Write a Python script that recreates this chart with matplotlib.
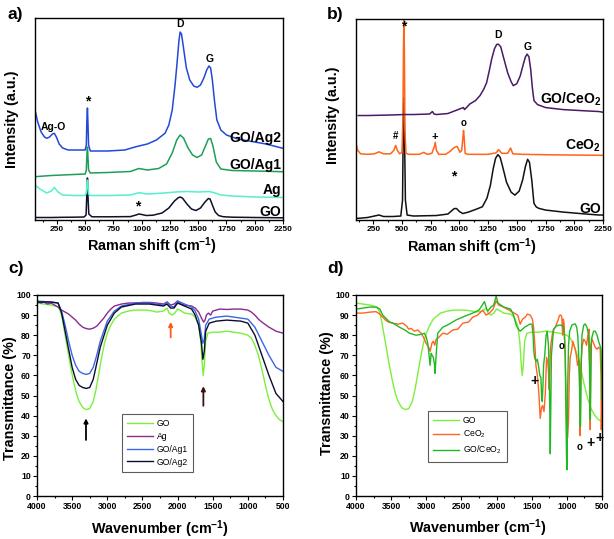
import matplotlib
matplotlib.use("Agg")
import matplotlib.pyplot as plt
from matplotlib.ticker import MultipleLocator

plt.rcParams['font.family'] = ['Liberation Sans', 'DejaVu Sans']
plt.rcParams['mathtext.default'] = 'regular'

# ---------------- panel a: Raman, GO / Ag ----------------
a_go_x = [56, 200, 300, 400, 490, 508, 514, 520, 526, 532, 560, 700, 900, 950, 975, 1000, 1040, 1100,
          1180, 1240, 1290, 1320, 1340, 1360, 1400, 1440, 1480, 1520, 1560, 1590, 1605, 1625, 1650, 1680,
          1720, 1800, 2000, 2250]
a_go_y = [2.5, 2.5, 2.7, 2.8, 3.0, 5, 25, 42, 20, 6, 3.2, 3.2, 3.4, 5, 6, 5.5, 4.5, 4.8,
          7, 12, 19, 22, 23, 22, 16, 11, 9.5, 12, 18, 21.5, 21, 15, 8, 4.5,
          3.3, 2.8, 2.5, 2.2]

a_ag_x = [56, 100, 160, 200, 227, 260, 300, 400, 500, 510, 515, 520, 525, 530, 545, 700, 900, 975, 1050,
          1200, 1300, 1400, 1500, 1600, 1650, 1700, 1800, 2000, 2250]
a_ag_y = [35, 31, 27, 29, 32.5, 28, 25, 24.5, 24.5, 27, 36, 40, 33, 26, 24.5, 24.5, 25, 27.3, 26,
          27, 28, 28.5, 28, 28.5, 27, 25, 24, 23, 22.5]

a_goag1_x = [56, 200, 400, 500, 510, 515, 520, 525, 530, 545, 700, 900, 975, 1050, 1150, 1220, 1270, 1310,
             1340, 1370, 1410, 1450, 1490, 1530, 1560, 1590, 1610, 1630, 1660, 1700, 1800, 2000, 2250]
a_goag1_y = [43.3, 44.5, 45.5, 46, 50, 65, 73, 62, 50, 47, 47.5, 48.5, 51.5, 50, 51.5, 56, 67, 80,
             85, 82, 72, 65, 62.5, 65, 73, 81, 81.5, 74, 58, 51, 49.5, 49, 48.3]

a_goag2_x = [56, 80, 110, 140, 160, 185, 210, 227, 245, 270, 300, 350, 420, 500, 510, 515, 520, 525, 530,
             545, 700, 850, 941, 975, 1050, 1130, 1206, 1240, 1270, 1295, 1315, 1330, 1340, 1352, 1370,
             1395, 1425, 1460, 1490, 1520, 1550, 1575, 1595, 1610, 1625, 1645, 1665, 1700, 1750, 1850,
             2000, 2100, 2250]
a_goag2_y = [110, 98, 88, 83, 81.7, 83, 86, 86.7, 83, 76, 72, 70, 70, 70, 75, 100, 112, 95, 75,
             69, 69, 70, 73, 74, 76, 80, 86.7, 95, 110, 135, 160, 180, 188, 186, 172,
             152, 140, 134, 132.7, 135, 142, 150, 154, 152, 140, 118, 100, 90, 85, 81,
             78, 76, 71.7]

# ---------------- panel b: Raman, GO / CeO2 ----------------
b_go_x = [100, 200, 260, 300, 340, 420, 490, 505, 511, 517, 523, 530, 545, 600, 800, 900, 930, 955, 975,
          1000, 1030, 1080, 1150, 1200, 1240, 1270, 1295, 1315, 1335, 1355, 1380, 1410, 1450, 1483, 1520,
          1550, 1575, 1594, 1610, 1630, 1649, 1670, 1692, 1750, 1900, 2050, 2215, 2250]
b_go_y = [1.5, 2.5, 4, 5, 3.5, 3.5, 4, 20, 90, 123, 80, 20, 5, 4, 4.5, 6, 9, 11.5, 11.5,
          8.5, 6.5, 8, 11, 13.3, 22, 35, 52, 62, 65.7, 63, 52, 38, 28, 25, 29,
          40, 54, 61, 58, 40, 16.7, 13, 11.7, 10, 8, 6.5, 5, 5]

b_ceo2_x = [100, 115, 140, 200, 260, 300, 340, 400, 430, 445, 460, 480, 500, 508, 513, 517, 521, 526, 535,
            560, 650, 690, 720, 760, 780, 790, 800, 820, 880, 920, 950, 980, 1005, 1020, 1030, 1036, 1042,
            1050, 1070, 1150, 1250, 1320, 1341, 1370, 1420, 1446, 1465, 1550, 1800, 2250]
b_ceo2_y = [77, 70, 66.5, 66, 66.5, 68.5, 66.5, 66.5, 70, 75, 70, 66.5, 68, 100, 170, 201, 170, 90, 67,
            66, 66, 68, 66, 67, 73, 78, 70, 66, 66, 69, 72.5, 74, 68, 70, 82, 90, 82,
            67, 66, 66, 66, 67.5, 70.7, 67, 67, 72.3, 66.5, 66, 65.5, 65]

b_goceo2_x = [120, 200, 400, 517, 600, 740, 765, 780, 800, 900, 1005, 1035, 1045, 1092, 1140, 1179, 1210,
              1237, 1260, 1281, 1305, 1325, 1340, 1360, 1385, 1420, 1450, 1469, 1500, 1530, 1555, 1575,
              1590, 1605, 1620, 1635, 1649, 1680, 1750, 1900, 2050, 2215, 2250]
b_goceo2_y = [105, 105, 105.5, 106, 106, 106.5, 109, 106.5, 106, 107, 111.7, 113, 111, 116.7, 120, 125, 131,
              138, 150, 161.7, 172, 176.5, 176.7, 174, 163, 148, 139, 135, 137, 145, 156, 164,
              166.7, 164, 152, 133, 120, 116, 113, 111, 110, 109, 108.3]

# ---------------- panel c: FTIR, GO / Ag ----------------
c_go_x = [4000, 3900, 3800, 3700, 3670, 3640, 3600, 3560, 3520, 3480, 3440, 3400, 3350, 3300, 3250, 3200,
          3160, 3120, 3080, 3040, 3000, 2950, 2900, 2800, 2700, 2600, 2450, 2350, 2300, 2200, 2150, 2120,
          2080, 2040, 2000, 1970, 1900, 1800, 1750, 1700, 1670, 1650, 1635, 1620, 1600, 1570, 1500, 1400,
          1300, 1200, 1100, 1000, 950, 900, 850, 800, 750, 700, 650, 600, 550, 500]
c_go_y = [96, 95.5, 95, 94, 92, 88, 80, 72, 64, 57, 51, 47, 44, 43, 43.5, 47,
          53, 61, 69, 76, 81, 85, 88, 91, 92, 92.5, 92.5, 92, 91.5, 92, 93.5, 91,
          90, 91, 93, 92.5, 91, 90.5, 89, 85, 77, 66, 60, 65, 77, 81, 81.5, 81.5,
          82, 81.5, 81, 80, 78.5, 75, 70, 63, 55, 48, 43, 40, 38, 37]

c_ag_x = [4000, 3950, 3900, 3850, 3800, 3750, 3700, 3650, 3600, 3550, 3500, 3450, 3400, 3350, 3300, 3250,
          3200, 3150, 3100, 3050, 3000, 2950, 2900, 2800, 2700, 2600, 2500, 2400, 2300, 2200, 2150, 2100,
          2050, 2000, 1950, 1900, 1800, 1750, 1700, 1660, 1630, 1610, 1590, 1560, 1530, 1500, 1450, 1400,
          1300, 1200, 1100, 1000, 950, 900, 850, 800, 700, 600, 500]
c_ag_y = [97, 96, 96.5, 95.5, 96, 95, 94, 92.5, 91.5, 90.5, 89, 87.5, 85.5, 84, 83.3, 83,
          83.5, 84.5, 86.5, 88.5, 91, 93, 94.5, 95.5, 96, 96, 96.3, 96.3, 96, 95.5, 96.5, 95,
          95.5, 97, 95.5, 95, 94.5, 93.5, 91.5, 88.5, 86.5, 87.5, 90, 91, 90, 92, 92.5, 93,
          92.8, 93, 93, 92.5, 91.5, 90, 88, 86.5, 84, 82, 81]

c_goag1_x = [4000, 3800, 3700, 3650, 3600, 3550, 3500, 3450, 3400, 3350, 3300, 3250, 3200, 3150, 3100,
             3000, 2900, 2800, 2600, 2400, 2300, 2200, 2150, 2100, 2050, 2000, 1900, 1800, 1750, 1700,
             1660, 1640, 1620, 1600, 1550, 1450, 1300, 1100, 1000, 900, 800, 700, 600, 500]
c_goag1_y = [97, 96.5, 96, 92, 85, 77, 70, 65, 62, 61, 60.5, 61, 64, 70, 77,
             87, 92, 94.5, 96, 96, 95.5, 95, 96.5, 94.5, 94, 97, 95.5, 94, 92, 88,
             80, 76, 78, 85, 88, 89, 89.5, 88.5, 88, 84, 77, 70, 64, 62]

c_goag2_x = [4000, 3800, 3700, 3650, 3600, 3550, 3500, 3450, 3400, 3350, 3300, 3250, 3200, 3150, 3100,
             3000, 2900, 2800, 2600, 2400, 2300, 2200, 2150, 2100, 2050, 2000, 1900, 1800, 1750, 1700,
             1660, 1640, 1620, 1600, 1550, 1450, 1300, 1100, 1000, 900, 800, 700, 600, 500]
c_goag2_y = [96.5, 96.5, 96, 91, 82, 73, 64, 58, 55, 54, 53.5, 54, 58, 66, 74,
             85, 91, 94, 95.5, 95.5, 95, 94.5, 95.5, 93.5, 93.5, 96, 94.5, 93, 90, 85,
             76, 68, 72, 82, 86, 87, 87.5, 87, 86, 80, 70, 60, 51, 47]

# ---------------- panel d: FTIR, GO / CeO2 ----------------
d_ceo2_x = [4000, 3900, 3800, 3715, 3660, 3620, 3580, 3549, 3478, 3400, 3335, 3280, 3250, 3216, 3170, 3122,
            3074, 3040, 3003, 2985, 2965, 2945, 2920, 2900, 2880, 2860, 2820, 2765, 2700, 2623, 2550, 2481,
            2400, 2338, 2270, 2196, 2150, 2101, 2050, 2006, 1970, 1900, 1800, 1750, 1700, 1664, 1630, 1592,
            1560, 1521, 1490, 1474, 1455, 1440, 1420, 1400, 1393, 1379, 1360, 1345, 1325, 1307, 1288, 1270,
            1260, 1250, 1236, 1225, 1200, 1165, 1130, 1104, 1085, 1071, 1060, 1050, 1040, 1023, 1010, 1000,
            990, 976, 965, 953, 935, 915, 900, 881, 865, 848, 830, 818, 810, 800, 780, 760, 739, 720, 700,
            685, 672, 667, 660, 640, 620, 596, 572, 550, 525, 515, 510, 500]
d_ceo2_y = [91, 91, 91.5, 91.7, 90.5, 89, 87.5, 86.7, 86, 85.5, 86, 84.5, 83, 83.4, 82, 82.6,
            81, 79, 76, 75, 74, 72, 76, 77, 75, 78, 79, 81, 80.5, 82.6, 83, 86,
            86.5, 89, 90, 92.5, 90, 91, 93, 97, 95, 94, 92, 91, 90, 85.5, 88, 89,
            90.5, 90, 88, 84, 75, 65, 60, 52, 47.8, 38.6, 44, 45, 42, 51, 69, 66,
            61, 53, 72, 76, 82, 84, 87, 89.9, 90, 89, 80, 88, 86, 70, 45, 30,
            29, 38, 60, 69, 72, 77, 75, 73, 70, 65, 68, 55, 30, 66, 75, 78, 77, 75, 80,
            83, 60, 33, 75, 78, 76, 74, 73, 74, 73, 60, 33, 50]

d_goceo2_x = [4000, 3900, 3800, 3715, 3660, 3620, 3525, 3450, 3383, 3300, 3240, 3145, 3060, 3027, 3000,
              2979, 2960, 2946, 2930, 2918, 2900, 2885, 2875, 2860, 2837, 2765, 2700, 2575, 2450, 2338,
              2250, 2172, 2140, 2124, 2080, 2040, 2006, 1980, 1900, 1800, 1759, 1720, 1690, 1664, 1630,
              1600, 1569, 1530, 1497, 1480, 1474, 1460, 1440, 1420, 1400, 1385, 1369, 1360, 1350, 1340,
              1331, 1315, 1307, 1295, 1280, 1262, 1250, 1240, 1236, 1230, 1220, 1189, 1150, 1118, 1080,
              1047, 1035, 1023, 1012, 1005, 1000, 995, 988, 976, 960, 929, 900, 881, 860, 845, 834, 822,
              812, 806, 798, 785, 760, 739, 715, 700, 691, 675, 667, 660, 650, 620, 596, 570, 549, 530,
              515, 505, 500]
d_goceo2_y = [93, 93.5, 94, 94, 93, 90, 86.7, 85.5, 84, 82.5, 81, 80, 80.5, 81, 79,
              76, 70, 65, 71, 70, 69, 66, 61, 70, 81, 84, 85, 87.6, 89.5, 91,
              92.5, 96.7, 93, 92, 94, 95, 99.5, 96, 94, 93, 90, 85, 83, 82, 83,
              84, 84.6, 85.5, 85.5, 80, 74, 69, 67, 68, 64, 60, 59, 50, 47, 55,
              65, 70, 74, 80, 82, 75, 60, 35, 21, 40, 70, 83, 84.5, 85, 85,
              84, 80, 69, 40, 20, 13, 20, 55, 75, 82, 85, 85.5, 85.6, 84, 80, 72, 60,
              35, 34.5, 60, 80, 85, 85.6, 84, 82, 80, 60, 37.8, 55, 78, 82, 82, 80, 77, 75,
              73, 60, 48]

fig = plt.figure(figsize=(6.14, 5.39), dpi=100)
W, H = 614.0, 539.0


def axes_px(left, top, right, bottom):
    return fig.add_axes([left / W, 1 - bottom / H, (right - left) / W, (bottom - top) / H])


def fig_text(x, y, s, **kw):
    fig.text(x / W, 1 - y / H, s, **kw)


ax_a = axes_px(35, 18, 283, 220)
ax_b = axes_px(356, 19, 603, 220)
ax_c = axes_px(37, 295, 283, 496)
ax_d = axes_px(356, 295, 602, 496)

# Raman panels
ax_a.plot(a_go_x, a_go_y, color='#10102a', lw=1.1)
ax_a.plot(a_ag_x, a_ag_y, color='#55f0cc', lw=1.1)
ax_a.plot(a_goag1_x, a_goag1_y, color='#1f9e58', lw=1.1)
ax_a.plot(a_goag2_x, a_goag2_y, color='#2448d8', lw=1.1)
ax_a.set_xlim(56, 2250)

ax_b.plot(b_go_x, b_go_y, color='#111111', lw=1.1)
ax_b.plot(b_ceo2_x, b_ceo2_y, color='#ff6419', lw=1.1)
ax_b.plot(b_goceo2_x, b_goceo2_y, color='#4a1a66', lw=1.1)
ax_b.set_xlim(100, 2250)

for ax in (ax_a, ax_b):
    ax.set_ylim(0, 202)
    ax.set_yticks([])
    ax.set_xticks(range(250, 2251, 250))
    ax.set_xticklabels([str(v) for v in range(250, 2251, 250)], fontweight='bold')
    ax.xaxis.set_minor_locator(MultipleLocator(125))
    ax.tick_params(axis='x', which='major', direction='out', length=3, width=0.8, pad=1.5, labelsize=6)
    ax.tick_params(axis='x', which='minor', direction='out', length=1.5, width=0.8)
    for sp in ax.spines.values():
        sp.set_linewidth(1.0)

lab_kw = dict(fontsize=10, fontweight='bold', ha='right', va='center')
ax_a.text(2235, 81.7, 'GO/Ag2', **lab_kw)
ax_a.text(2235, 55, 'GO/Ag1', **lab_kw)
ax_a.text(2235, 30, 'Ag', **lab_kw)
ax_a.text(2235, 8, 'GO', **lab_kw)
ax_a.text(218, 93, 'Ag-O', fontsize=7.5, fontweight='bold', ha='center', va='center')
ax_a.text(520, 119, '*', fontsize=10, fontweight='bold', ha='center', va='center')
ax_a.text(962, 14, '*', fontsize=10, fontweight='bold', ha='center', va='center')
ax_a.text(1340, 196, 'D', fontsize=7.5, fontweight='bold', ha='center', va='center')
ax_a.text(1600, 161, 'G', fontsize=7.5, fontweight='bold', ha='center', va='center')

ax_b.text(2235, 121, 'GO/CeO$_2$', **lab_kw)
ax_b.text(2235, 74.5, 'CeO$_2$', **lab_kw)
ax_b.text(2235, 11, 'GO', **lab_kw)
ax_b.text(517, 194, '*', fontsize=10, fontweight='bold', ha='center', va='center')
ax_b.text(953, 44, '*', fontsize=10, fontweight='bold', ha='center', va='center')
ax_b.text(445, 84, '#', fontsize=7, fontweight='bold', ha='center', va='center')
ax_b.text(787, 83, '+', fontsize=8, fontweight='bold', ha='center', va='center')
ax_b.text(1034, 97, 'o', fontsize=7, fontweight='bold', ha='center', va='center')
ax_b.text(1335, 186, 'D', fontsize=7.5, fontweight='bold', ha='center', va='center')
ax_b.text(1590, 174, 'G', fontsize=7.5, fontweight='bold', ha='center', va='center')

# FTIR panels
ax_c.plot(c_go_x, c_go_y, color='#7af03a', lw=1.0, label='GO')
ax_c.plot(c_ag_x, c_ag_y, color='#8a2a8e', lw=1.0, label='Ag')
ax_c.plot(c_goag1_x, c_goag1_y, color='#3a66e8', lw=1.0, label='GO/Ag1')
ax_c.plot(c_goag2_x, c_goag2_y, color='#0c0c30', lw=1.0, label='GO/Ag2')

ax_d.plot(c_go_x, c_go_y, color='#7af03a', lw=1.0, label='GO')
ax_d.plot(d_ceo2_x, d_ceo2_y, color='#ff6422', lw=1.0, label='CeO$_2$')
ax_d.plot(d_goceo2_x, d_goceo2_y, color='#22b822', lw=1.0, label='GO/CeO$_2$')

for ax in (ax_c, ax_d):
    ax.set_xlim(4000, 500)
    ax.set_ylim(0, 100)
    ax.xaxis.set_major_locator(MultipleLocator(500))
    ax.xaxis.set_minor_locator(MultipleLocator(250))
    ax.yaxis.set_major_locator(MultipleLocator(10))
    ax.yaxis.set_minor_locator(MultipleLocator(5))
    ax.tick_params(which='major', direction='out', length=3, width=0.8, pad=1.5, labelsize=6.2)
    ax.tick_params(which='minor', direction='out', length=1.5, width=0.8)
    for lab in ax.get_xticklabels() + ax.get_yticklabels():
        lab.set_fontweight('bold')
    for sp in ax.spines.values():
        sp.set_linewidth(1.0)

leg_kw = dict(loc='lower left', fontsize=6.2, frameon=True, fancybox=False, edgecolor='#333333',
              handlelength=3.0, handletextpad=0.5, labelspacing=0.45, borderpad=0.6, borderaxespad=0)
leg_c = ax_c.legend(bbox_to_anchor=(0.344, 0.121), **leg_kw)
leg_d = ax_d.legend(bbox_to_anchor=(0.291, 0.171), **leg_kw)
for leg in (leg_c, leg_d):
    leg.get_frame().set_linewidth(0.8)

arrow = dict(arrowstyle='-|>', lw=1.3, mutation_scale=6)
ax_c.annotate('', xy=(3303, 40), xytext=(3303, 26.5), arrowprops=dict(color='black', **arrow))
ax_c.annotate('', xy=(2098, 88), xytext=(2098, 77.5), arrowprops=dict(color='#ff5a1a', **arrow))
ax_c.annotate('', xy=(1633, 56), xytext=(1633, 43.5), arrowprops=dict(color='#3a1010', **arrow))

sym_kw = dict(fontweight='bold', ha='center', va='center')
ax_d.text(1460, 57.4, '+', fontsize=10, **sym_kw)
ax_d.text(1070, 74.6, 'o', fontsize=7, **sym_kw)
ax_d.text(818, 24.5, 'o', fontsize=7, **sym_kw)
ax_d.text(667, 26.5, '+', fontsize=10, **sym_kw)
ax_d.text(534, 29, '+', fontsize=10, **sym_kw)

# axis labels and panel letters
ylab = dict(fontsize=10.4, fontweight='bold', rotation=90, ha='center', va='center')
xlab = dict(fontsize=10.4, fontweight='bold', ha='center', va='center')
fig_text(12, 119, 'Intensity (a.u.)', **ylab)
fig_text(333, 115, 'Intensity (a.u.)', **ylab)
fig_text(152, 246, 'Raman shift (cm$^{-1}$)', **xlab)
fig_text(472, 247, 'Raman shift (cm$^{-1}$)', **xlab)
fig_text(10, 398, 'Transmittance (%)', **ylab)
fig_text(327, 393, 'Transmittance (%)', **ylab)
fig_text(160, 529, 'Wavenumber (cm$^{-1}$)', **xlab)
fig_text(478, 528, 'Wavenumber (cm$^{-1}$)', **xlab)

fig_text(8, 15, 'a)', fontsize=12.5, fontweight='bold', ha='left', va='center')
fig_text(327, 15, 'b)', fontsize=12.5, fontweight='bold', ha='left', va='center')
fig_text(8, 269, 'c)', fontsize=12.5, fontweight='bold', ha='left', va='center')
fig_text(327, 269, 'd)', fontsize=12.5, fontweight='bold', ha='left', va='center')

fig.savefig('out.png', dpi=100)
